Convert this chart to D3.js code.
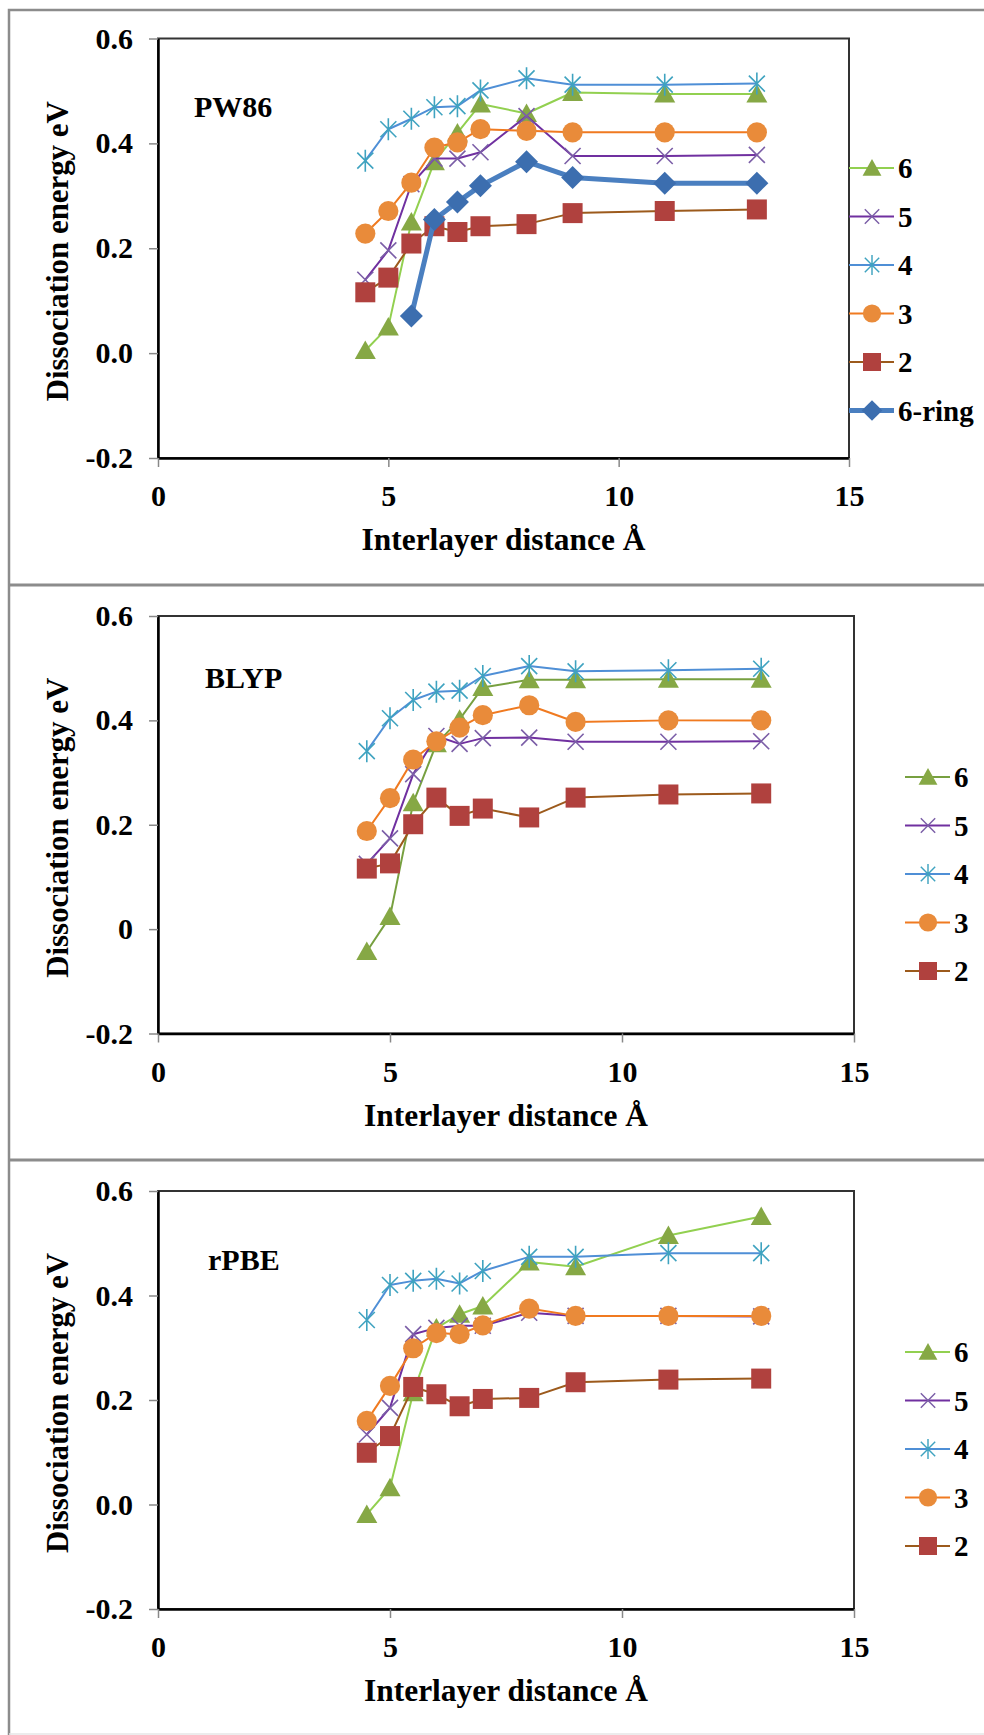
<!DOCTYPE html>
<html>
<head>
<meta charset="utf-8">
<script src="https://cdn.jsdelivr.net/npm/d3@7"></script>
<style>
  body { margin: 0; background: #fff; }
  svg { display: block; font-family: "Liberation Serif", "Times New Roman", serif; font-weight: bold; }
</style>
</head>
<body>
<svg id="chart"></svg>
<script>
// Interlayer distances (Å)
const distances = [4.5, 5, 5.5, 6, 6.5, 7, 8, 9, 11, 13];
const ringDistances = [5.5, 6, 6.5, 7, 8, 9, 11, 13];

// PW86 dissociation energies (eV)
const pw86_6 = [0.005, 0.050, 0.250, 0.365, 0.420, 0.475, 0.457, 0.497, 0.494, 0.494];
const pw86_5 = [0.140, 0.196, 0.322, 0.371, 0.371, 0.383, 0.452, 0.376, 0.376, 0.378];
const pw86_4 = [0.367, 0.427, 0.447, 0.469, 0.471, 0.501, 0.524, 0.512, 0.512, 0.514];
const pw86_3 = [0.228, 0.271, 0.325, 0.392, 0.402, 0.427, 0.424, 0.421, 0.421, 0.421];
const pw86_2 = [0.116, 0.144, 0.209, 0.242, 0.231, 0.242, 0.246, 0.267, 0.271, 0.274];
const pw86_ring = [0.071, 0.255, 0.288, 0.319, 0.365, 0.335, 0.324, 0.324];

// BLYP
const blyp_6 = [-0.043, 0.024, 0.242, 0.355, 0.402, 0.463, 0.478, 0.478, 0.479, 0.479];
const blyp_5 = [0.125, 0.174, 0.297, 0.370, 0.355, 0.366, 0.367, 0.359, 0.359, 0.360];
const blyp_4 = [0.341, 0.404, 0.439, 0.455, 0.457, 0.485, 0.504, 0.494, 0.496, 0.499];
const blyp_3 = [0.188, 0.251, 0.325, 0.360, 0.386, 0.410, 0.429, 0.397, 0.400, 0.400];
const blyp_2 = [0.116, 0.126, 0.201, 0.252, 0.217, 0.231, 0.214, 0.252, 0.258, 0.260];

// rPBE
const rpbe_6 = [-0.019, 0.032, 0.214, 0.338, 0.364, 0.380, 0.464, 0.455, 0.515, 0.551];
const rpbe_5 = [0.134, 0.185, 0.326, 0.338, 0.342, 0.342, 0.367, 0.361, 0.361, 0.360];
const rpbe_4 = [0.353, 0.420, 0.428, 0.432, 0.423, 0.447, 0.474, 0.474, 0.481, 0.481];
const rpbe_3 = [0.160, 0.227, 0.299, 0.328, 0.326, 0.343, 0.375, 0.361, 0.361, 0.361];
const rpbe_2 = [0.099, 0.131, 0.225, 0.211, 0.188, 0.202, 0.204, 0.234, 0.239, 0.241];

const panelNames = ["PW86", "BLYP", "rPBE"];
const seriesNames = ["6", "5", "4", "3", "2", "6-ring"];
const xTicks = [0, 5, 10, 15];
const yTicks = [-0.2, 0, 0.2, 0.4, 0.6];
const yTickLabels1 = ["-0.2", "0.0", "0.2", "0.4", "0.6"];
const yTickLabels2 = ["-0.2", "0", "0.2", "0.4", "0.6"];

// Series per panel, in drawing order
const panelSeries = [
  [["6", distances, pw86_6], ["5", distances, pw86_5], ["4", distances, pw86_4],
   ["3", distances, pw86_3], ["2", distances, pw86_2], ["6-ring", ringDistances, pw86_ring]],
  [["6", distances, blyp_6], ["5", distances, blyp_5], ["4", distances, blyp_4],
   ["3", distances, blyp_3], ["2", distances, blyp_2]],
  [["6", distances, rpbe_6], ["5", distances, rpbe_5], ["4", distances, rpbe_4],
   ["3", distances, rpbe_3], ["2", distances, rpbe_2]]
];
const panelTickLabels = [yTickLabels1, yTickLabels2, yTickLabels1];

// Layout of each panel (plot box, label and legend positions)
const panels = [
  { left: 158, right: 849, top: 38.5, bottom: 458, labelX: 194, labelY: 117, legX: 849, legY: 168 },
  { left: 158, right: 854, top: 616, bottom: 1033.5, labelX: 205, labelY: 688, legX: 905, legY: 777 },
  { left: 158, right: 854, top: 1191, bottom: 1609, labelX: 208, labelY: 1270, legX: 905, legY: 1352 }
];

// Series styles
const styles = {
  "6": { line: "#92d050", fill: "#86a845", shape: "triangle", w: 2 },
  "5": { line: "#7030a0", fill: "#7b5ea7", shape: "x", w: 2 },
  "4": { line: "#4f8fd6", fill: "#3fa3c0", shape: "star", w: 2 },
  "3": { line: "#f07a20", fill: "#e98b3a", shape: "circle", w: 2 },
  "2": { line: "#9c5a1c", fill: "#b0413e", shape: "square", w: 2 },
  "6-ring": { line: "#4a7fc0", fill: "#3c6eaf", shape: "diamond", w: 5 }
};

function markerPath(shape) {
  switch (shape) {
    case "triangle": return "M0,-10L10.5,8.5L-10.5,8.5Z";
    case "square": return "M-10,-10H10V10H-10Z";
    case "diamond": return "M0,-11.5L11.5,0L0,11.5L-11.5,0Z";
    case "x": return "M-8,-8L8,8M8,-8L-8,8";
    case "star": return "M-8,-8L8,8M8,-8L-8,8M0,-11V11";
    default: return d3.symbol(d3.symbolCircle, 320)();
  }
}

function drawMarker(sel, s) {
  const stroked = s.shape === "x" || s.shape === "star";
  sel.append("path")
    .attr("d", markerPath(s.shape))
    .attr("fill", stroked ? "none" : s.fill)
    .attr("stroke", stroked ? s.fill : "none")
    .attr("stroke-width", stroked ? 1.6 : 0);
}

const svg = d3.select("#chart")
  .attr("width", 984)
  .attr("height", 1735);

svg.append("rect").attr("width", 984).attr("height", 1735).attr("fill", "#fff");

// Outer frames
const frame = svg.append("g").attr("stroke", "#8c8c8c").attr("fill", "none");
frame.append("path").attr("d", "M9,1735V10H984").attr("stroke-width", 2.5);
[585, 1160].forEach(y => frame.append("path").attr("d", `M9,${y}H984`).attr("stroke-width", 3));
frame.append("path").attr("d", "M9,1734H984").attr("stroke", "#e6e6e6").attr("stroke-width", 1.5);

panels.forEach((p, pi) => {
  const g = svg.append("g");

  const x = d3.scaleLinear().domain([0, 15]).range([p.left, p.right]);
  const y = d3.scaleLinear().domain([-0.2, 0.6]).range([p.bottom, p.top]);

  // Plot box
  g.append("rect")
    .attr("x", p.left).attr("y", p.top)
    .attr("width", p.right - p.left).attr("height", p.bottom - p.top)
    .attr("fill", "#fff").attr("stroke", "#333").attr("stroke-width", 2);

  // Axes
  const labels = panelTickLabels[pi];
  const yAxis = g.append("g")
    .attr("transform", `translate(${p.left},0)`)
    .call(d3.axisLeft(y).tickValues(yTicks).tickSize(9).tickSizeOuter(0).tickPadding(16)
      .tickFormat((d, i) => labels[i]));

  const xAxis = g.append("g")
    .attr("transform", `translate(0,${p.bottom})`)
    .call(d3.axisBottom(x).tickValues(xTicks).tickSize(9).tickSizeOuter(0)
      .tickFormat(d3.format("d")));
  xAxis.selectAll("text").attr("y", 48).attr("dy", 0);

  [yAxis, xAxis].forEach(a => {
    a.select(".domain").attr("stroke", "#000").attr("stroke-width", 2.5);
    a.selectAll(".tick line").attr("stroke", "#888").attr("stroke-width", 1.5);
    a.selectAll("text")
      .attr("font-family", "Liberation Serif, serif")
      .attr("font-weight", "bold")
      .attr("font-size", 30)
      .attr("fill", "#000");
  });

  // Series lines and markers
  const line = d3.line().x(d => x(d[0])).y(d => y(d[1]));
  panelSeries[pi].forEach(([name, xs, vals]) => {
    const s = styles[name];
    const lineColor = (pi === 1 && name === "6") ? "#77a040" : s.line;
    const pts = d3.zip(xs, vals);
    g.append("path")
      .datum(pts)
      .attr("fill", "none")
      .attr("stroke", lineColor)
      .attr("stroke-width", s.w)
      .attr("stroke-linejoin", "round")
      .attr("d", line);
    g.selectAll(null)
      .data(pts)
      .enter()
      .append("g")
      .attr("transform", d => `translate(${x(d[0])},${y(d[1])})`)
      .each(function () { drawMarker(d3.select(this), s); });
  });

  // Panel label
  g.append("text")
    .attr("x", p.labelX).attr("y", p.labelY)
    .attr("font-size", 30)
    .text(panelNames[pi]);

  // Axis titles
  g.append("text")
    .attr("x", (p.left + p.right) / 2)
    .attr("y", p.bottom + 92)
    .attr("text-anchor", "middle")
    .attr("font-size", 31)
    .attr("textLength", 284)
    .attr("lengthAdjust", "spacingAndGlyphs")
    .text("Interlayer distance Å");

  g.append("text")
    .attr("transform", `translate(68,${(p.top + p.bottom) / 2 + 3}) rotate(-90)`)
    .attr("text-anchor", "middle")
    .attr("font-size", 31)
    .attr("textLength", 300)
    .attr("lengthAdjust", "spacingAndGlyphs")
    .text("Dissociation energy eV");

  // Legend
  panelSeries[pi].forEach(([name], i) => {
    const s = styles[name];
    const lineColor = (pi === 1 && name === "6") ? "#77a040" : s.line;
    const ly = p.legY + i * 48.5;
    const item = g.append("g").attr("transform", `translate(${p.legX},${ly})`);
    item.append("line")
      .attr("x1", 0).attr("x2", 45)
      .attr("stroke", lineColor)
      .attr("stroke-width", s.w);
    const m = item.append("g").attr("transform", "translate(23,0) scale(0.9)");
    drawMarker(m, s);
    item.append("text")
      .attr("x", 49)
      .attr("dy", "0.35em")
      .attr("font-size", 29)
      .text(name);
  });
});
</script>
</body>
</html>
